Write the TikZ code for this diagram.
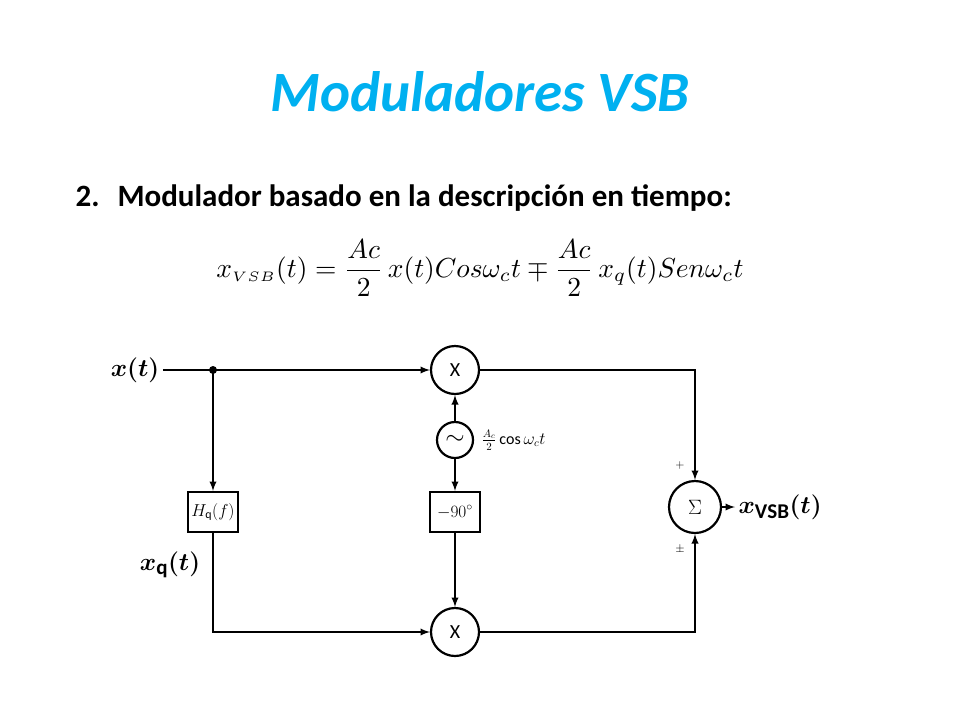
\documentclass[tikz,border=0pt]{standalone}
\usepackage{amsmath}
\usepackage{fontspec}
\setmainfont{Carlito}
\usetikzlibrary{positioning}
\definecolor{titleblue}{RGB}{0,176,240}
\begin{document}
\begin{tikzpicture}[x=1pt,y=-1pt,>=latex,
  line/.style={draw, line width=2.2pt},
  mult/.style={circle, draw, line width=2.2pt, minimum size=48pt, inner sep=0pt, font=\fontsize{20}{22}\selectfont},
  osc/.style={circle, draw, line width=2.2pt, minimum size=36pt, inner sep=0pt},
  block/.style={rectangle, draw, line width=2.2pt, minimum width=50pt, minimum height=40pt, inner sep=1pt, font=\fontsize{17}{20}\selectfont},
  sig/.style={font=\fontsize{30}{34}\selectfont\boldmath}]
\useasboundingbox (0,0) rectangle (960,720);
% titulos
\node[font=\fontsize{57}{62}\selectfont\bfseries\itshape, text=titleblue] (title) at (480,92) {Moduladores VSB};
\node[font=\fontsize{31}{36}\selectfont\bfseries, anchor=west] (sub) at (72,198) {2.\hspace{18pt}Modulador basado en la descripción en tiempo:};
\node (eq) at (480,268) {\resizebox{527pt}{!}{$x_{\scriptscriptstyle VSB}(t)=\dfrac{Ac}{2}\,x(t)Cos\omega_c t\mp\dfrac{Ac}{2}\,x_q(t)Sen\omega_c t$}};
% bloques
\node[sig] (in) at (135,370) {$x(t)$};
\coordinate (split) at (213,370);
\node[mult] (m1) at (455,370) {$\mathrm{X}$};
\node[osc] (lo) at (455,440) {\fontsize{30}{30}\selectfont$\sim$};
\node[right=4pt of lo, font=\fontsize{16}{18}\selectfont] (lolab) {$\frac{A_c}{2}\cos\omega_c t$};
\node[block] (ph) at (455,512) {$-90^\circ$};
\node[block] (hq) at (213,512) {$H_{\mathrm q}(f)$};
\node[mult] (m2) at (455,632) {$\mathrm{X}$};
\node[mult, minimum size=52pt] (sum) at (695,507) {$\Sigma$};
\node[sig, anchor=west] (out) at (735,507) {$x_{\mathrm{VSB}}(t)$};
\node[sig] (xq) at (170,565) {$x_{\mathrm q}(t)$};
\node[font=\large] (plus) at (680,465) {$+$};
\node[font=\large] (pm) at (680,549) {$\pm$};
% conexiones
\fill (split) circle (4pt);
\draw[line,->] (in) -- (m1);
\draw[line,->] (split) -- (hq);
\draw[line,->] (hq) |- (m2);
\draw[line,->] (lo) -- (m1);
\draw[line,->] (lo) -- (ph);
\draw[line,->] (ph) -- (m2);
\draw[line,->] (m1) -| (sum);
\draw[line,->] (m2) -| (sum);
\draw[line,->] (sum) -- (out);
\end{tikzpicture}
\end{document}
